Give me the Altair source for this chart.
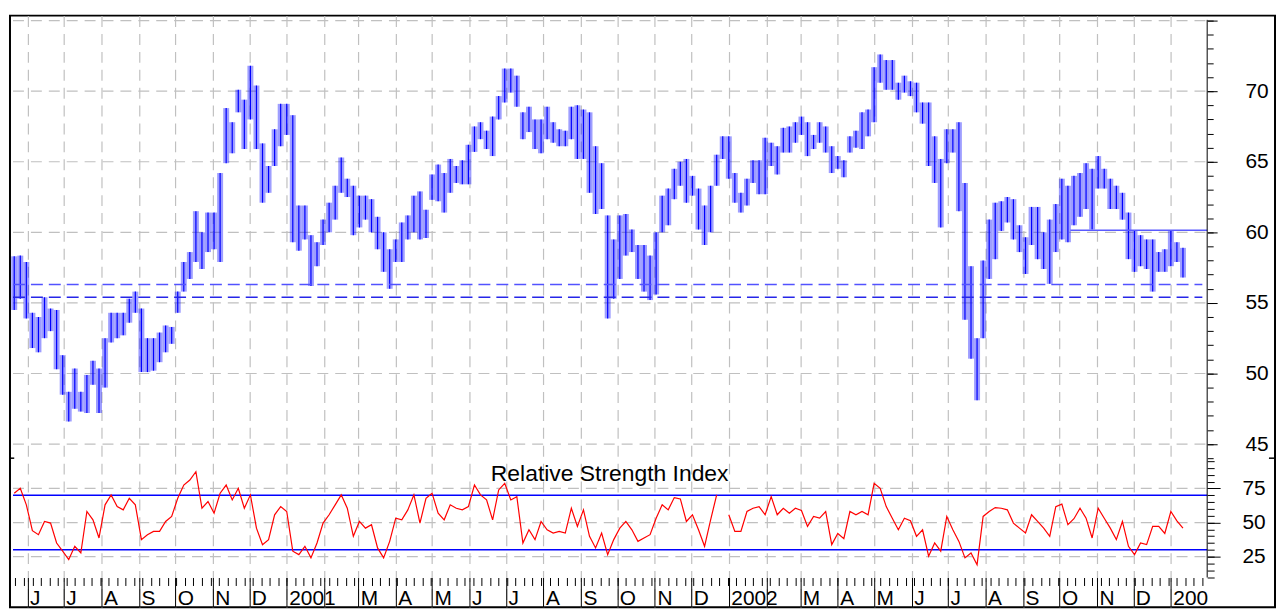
import json
import altair as alt
import pandas as pd

# ---------------- data ----------------
FIRST_BAR = "2000-05-21"
BAR_STEP = "5D"

HIGH = [
    58.3, 58.35, 57.9, 54.3, 54.0, 55.4, 54.6, 54.5, 51.3, 48.7,
    50.35, 48.7, 49.9, 50.9, 50.35, 52.5, 54.3, 54.3, 54.3, 55.3,
    55.8, 54.6, 52.5, 52.5, 52.9, 53.4, 53.3, 55.8, 57.9, 58.6,
    61.5, 60.0, 61.4, 61.4, 64.2, 68.8, 67.8, 70.1, 69.4, 71.8,
    70.4, 66.3, 64.7, 67.3, 69.1, 69.1, 68.3, 61.9, 61.9, 59.8,
    59.3, 60.9, 62.1, 63.3, 65.3, 63.8, 63.3, 62.6, 62.6, 62.35,
    61.1, 60.0, 58.8, 59.5, 60.7, 61.2, 62.6, 62.9, 61.6, 64.1,
    64.8, 64.2, 65.2, 64.7, 65.1, 66.2, 67.5, 67.8, 67.2, 68.2,
    69.65, 71.6, 71.6, 71.1, 68.5, 68.9, 68.0, 68.0, 68.9, 67.8,
    67.3, 67.2, 68.9, 69.0, 68.7, 68.5, 66.1, 64.9, 61.2, 59.5,
    61.2, 61.3, 60.2, 59.1, 59.1, 58.35, 60.0, 62.6, 63.1, 64.5,
    65.0, 65.2, 64.0, 63.1, 61.9, 63.3, 65.5, 66.8, 66.8, 64.2,
    62.8, 63.8, 65.1, 65.1, 66.7, 66.35, 66.1, 67.4, 67.5, 67.8,
    68.2, 67.8, 66.9, 67.8, 67.5, 66.1, 65.4, 65.1, 66.8, 67.2,
    68.5, 68.7, 71.7, 72.6, 72.2, 72.2, 70.6, 71.1, 70.7, 70.6,
    69.2, 69.2, 66.8, 65.2, 67.3, 67.3, 67.8, 63.5, 57.6, 52.5,
    58.0, 60.9, 62.1, 62.2, 62.5, 62.35, 60.5, 59.65, 61.8, 61.8,
    60.0, 60.9, 62.0, 63.8, 63.3, 64.0, 64.2, 64.9, 64.5, 65.4,
    64.5, 63.8, 63.3, 62.8, 61.4, 60.1, 59.8, 59.5, 59.5, 58.6,
    58.8, 60.1, 59.3, 58.9,
]

LOW = [
    54.5, 55.3, 53.9, 51.8, 51.5, 52.5, 53.0, 50.3, 48.5, 46.6,
    47.5, 47.3, 47.2, 49.2, 47.2, 49.0, 52.2, 52.5, 52.7, 53.6,
    54.3, 50.1, 50.1, 50.2, 50.8, 51.5, 52.1, 54.3, 55.8, 56.7,
    57.9, 57.4, 58.6, 58.8, 57.9, 64.9, 65.6, 68.5, 65.9, 68.0,
    65.9, 62.1, 62.8, 64.7, 66.1, 66.9, 59.3, 58.7, 59.5, 56.2,
    57.6, 59.1, 60.0, 60.9, 62.8, 62.5, 59.8, 60.35, 60.9, 60.0,
    58.8, 57.2, 56.0, 57.9, 57.9, 59.5, 60.0, 59.5, 59.6, 62.3,
    62.2, 61.4, 62.8, 63.5, 63.4, 63.4, 65.7, 66.6, 65.9, 65.4,
    68.0, 69.2, 69.9, 68.9, 66.6, 67.1, 65.9, 65.6, 66.6, 66.35,
    66.1, 66.1, 66.6, 65.2, 65.2, 62.8, 61.3, 61.65, 53.9, 55.3,
    56.7, 58.35, 58.6, 56.7, 55.8, 55.2, 55.6, 60.0, 60.5, 62.35,
    63.3, 62.1, 62.6, 60.2, 59.1, 60.0, 63.3, 65.2, 63.8, 62.1,
    61.4, 61.9, 63.5, 62.7, 62.7, 64.7, 64.1, 65.65, 65.65, 66.35,
    66.9, 65.4, 65.9, 66.35, 65.65, 64.2, 64.5, 63.9, 65.65, 66.0,
    65.9, 66.8, 67.8, 70.6, 70.1, 70.1, 69.4, 69.9, 69.65, 68.5,
    67.7, 64.7, 63.5, 60.35, 64.9, 65.65, 61.5, 53.8, 51.05, 48.1,
    52.5, 56.7, 58.1, 60.1, 60.7, 59.5, 58.6, 57.05, 59.1, 58.1,
    57.4, 56.35, 58.6, 59.5, 59.3, 60.5, 61.1, 61.65, 60.2, 63.1,
    63.1, 61.65, 61.65, 60.9, 58.1, 57.2, 57.6, 57.4, 55.8, 57.2,
    57.2, 57.6, 57.9, 56.8,
]

RSI = [
    71.5, 75.1, 63.0, 44.0, 41.1, 50.8, 49.6, 35.0, 29.0, 22.9,
    32.6, 27.7, 58.1, 52.0, 38.7, 63.0, 70.3, 61.7, 59.3, 67.8,
    63.0, 37.5, 41.1, 43.5, 43.5, 50.8, 54.5, 67.8, 77.5, 81.2,
    87.3, 60.5, 65.4, 56.9, 71.5, 77.5, 66.6, 75.1, 60.5, 70.3,
    45.9, 33.8, 37.5, 55.7, 61.7, 58.1, 29.0, 26.5, 32.6, 24.1,
    35.0, 49.6, 55.7, 63.0, 70.3, 60.5, 39.9, 50.8, 45.9, 48.4,
    31.4, 24.1, 36.2, 53.2, 52.0, 59.3, 70.3, 49.6, 67.8, 71.5,
    56.9, 52.0, 63.0, 60.5, 59.3, 61.7, 77.5, 70.3, 66.6, 52.0,
    73.9, 78.8, 66.6, 69.0, 35.0, 44.7, 37.5, 50.8, 44.7, 42.3,
    43.5, 42.3, 60.5, 47.2, 59.3, 39.9, 31.4, 42.3, 26.5, 37.5,
    45.9, 50.8, 44.7, 36.2, 38.7, 41.1, 53.2, 63.0, 59.3, 68.3,
    67.3, 50.8, 55.7, 44.7, 32.6, 52.0, 70.3, None, 55.7, 43.5,
    43.5, 58.1, 60.5, 61.7, 55.7, 69.0, 55.7, 60.5, 56.9, 60.5,
    58.8, 47.2, 54.5, 53.2, 58.1, 33.8, 42.0, 38.2, 58.1, 55.7,
    58.1, 55.7, 78.8, 75.1, 61.7, 53.2, 44.7, 53.2, 51.3, 39.9,
    44.7, 25.3, 35.0, 29.0, 54.5, 44.7, 36.2, 24.1, 27.7, 19.0,
    54.5, 58.1, 61.0, 60.5, 59.3, 49.6, 45.9, 42.3, 55.7, 50.8,
    45.9, 39.9, 61.7, 63.5, 48.4, 52.8, 60.5, 53.2, 38.7, 60.5,
    53.2, 45.9, 37.5, 50.8, 32.6, 26.5, 35.0, 33.8, 47.2, 47.2,
    42.0, 58.1, 51.3, 45.9,
]

PRICE_GRID = [45, 50, 55, 60, 65, 70, 75]
SUPPORT_LEVELS = [56.3, 55.4]
SUPPORT_COLORS = ["#5252ff", "#2626e8"]
RESIST_LEVEL = 60.15
RESIST_START = "2002-10-10"
RSI_GRID = [25, 50, 75]
RSI_BANDS = [70, 30]
PRICE_MAJOR = [45, 50, 55, 60, 65, 70, 75]
PRICE_UNLABELLED = [75]
PRICE_MINOR = list(range(44, 76))
RSI_MAJOR = [25, 50, 75]
RSI_MINOR = list(range(10, 100, 5))
MONTH_LETTERS = ["J", "F", "M", "A", "M", "J", "J", "A", "S", "O", "N", "D"]
CLIPPED_YEAR = {"2003": "200"}
TITLE_RSI = "Relative Strength Index"

LINE_START = "2000-05-20"
LINE_END = "2003-01-31"
X_START = "2000-05-17 12:00"
X_END = "2003-03-28 00:00"
STUB_X0 = ["2000-05-17", "2003-03-23"]
STUB_X1 = ["2000-05-21", "2003-03-28"]

# ---------------- layout ----------------
W, H = 1272, 595
FONT = "Liberation Sans"
P_HI, P_LO = 75, 44
Y_P_HI, Y_P_LO = 5, 445
k_p = (Y_P_LO - Y_P_HI) / (P_HI - P_LO)
p_dom = [P_HI - (H - Y_P_HI) / k_p, P_HI + Y_P_HI / k_p]

R_HI, R_LO = 97.2, 9.7
Y_R_HI, Y_R_LO = 445, 565
k_r = (Y_R_LO - Y_R_HI) / (R_HI - R_LO)
r_dom = [R_LO - (H - Y_R_LO) / k_r, R_HI + Y_R_HI / k_r]


def ms(s):
    return int(pd.Timestamp(s).value // 10**6)


x0_ms, x1_ms = ms(X_START), ms(X_END)
axis_px = (ms(LINE_END) - x0_ms) / (x1_ms - x0_ms) * W
right_off = -(W - axis_px)

weeks = [ms(t) for t in pd.date_range("2000-05-22", LINE_END, freq="W-MON")]
months = [ms(t) for t in pd.date_range("2000-06-01", "2003-01-01", freq="MS")]

dates = pd.date_range(FIRST_BAR, periods=len(HIGH), freq=BAR_STEP)
df = pd.DataFrame({
    "date": dates.strftime("%Y-%m-%d"),
    "high": HIGH,
    "low": LOW,
    "rsi": RSI,
})

xs = alt.Scale(type="utc", domain=[x0_ms, x1_ms], nice=False)
ps = alt.Scale(domain=p_dom, nice=False, zero=False)
rs = alt.Scale(domain=r_dom, nice=False, zero=False)

year_expr = "'' + utcyear(datum.value)"
for y, lab in CLIPPED_YEAR.items():
    year_expr = f"(utcyear(datum.value) == {y} ? '{lab}' : {year_expr})"
LABEL_EXPR = (
    f"utcmonth(datum.value) == 0 ? {year_expr} : "
    f"utcmonth(datum.value) == 1 ? '' : {json.dumps(MONTH_LETTERS)}[utcmonth(datum.value)]"
)
PRICE_LABEL_EXPR = " || ".join(f"datum.value == {v}" for v in PRICE_UNLABELLED) + " ? '' : datum.label"

common_lab = dict(labelFont=FONT, labelFontSize=21, labelColor="black",
                  labelOverlap=False, labelFlush=False, title=None)

x_major = alt.Axis(
    values=months, orient="bottom", offset=-(H - Y_R_LO), domain=False,
    grid=True, gridColor="#c0c0c0", gridDash=[11, 7], gridWidth=1.2,
    tickColor="black", tickWidth=1, tickSize=30,
    labelExpr=LABEL_EXPR, labelAlign="left", labelBaseline="alphabetic",
    labelOffset=2, labelPadding=-3, **common_lab,
)
x_minor = alt.Axis(
    values=weeks, orient="bottom", offset=-(H - Y_R_LO), domain=False, grid=False,
    tickColor="black", tickWidth=1, tickSize=8, labels=False, title=None,
)

price_major = alt.Axis(
    orient="right", offset=right_off, values=PRICE_MAJOR, domain=False, grid=False,
    tickColor="black", tickWidth=1, tickSize=10, labelExpr=PRICE_LABEL_EXPR,
    labelAlign="left", labelBaseline="middle", labelPadding=28, **common_lab,
)
price_minor = alt.Axis(
    orient="right", offset=right_off, values=PRICE_MINOR, domain=False, grid=False,
    tickColor="black", tickWidth=1, tickSize=6, labels=False, title=None,
)
rsi_major = alt.Axis(
    orient="right", offset=right_off, values=RSI_MAJOR, domain=False, grid=False,
    tickColor="black", tickWidth=1, tickSize=13,
    labelAlign="left", labelBaseline="middle", labelPadding=22, **common_lab,
)
rsi_minor = alt.Axis(
    orient="right", offset=right_off, values=RSI_MINOR, domain=False, grid=False,
    tickColor="black", tickWidth=1, tickSize=7, labels=False, title=None,
)

base = alt.Chart(df)

# ---------- price panel ----------
grid_price = alt.Chart(pd.DataFrame({"level": PRICE_GRID, "x0": LINE_START, "x1": LINE_END})).mark_rule(
    color="#c0c0c0", strokeDash=[11, 7], strokeWidth=1.2
).encode(
    x=alt.X("x0:T", scale=xs, axis=x_major), x2="x1",
    y=alt.Y("level:Q", scale=ps, axis=price_minor),
)

bars_light = base.mark_rule(color="#0000ff", strokeWidth=6, opacity=0.38).encode(
    x=alt.X("date:T", scale=xs, axis=x_minor),
    y=alt.Y("low:Q", scale=ps, axis=price_major), y2="high",
)
bars_dark = base.mark_rule(color="#0000ff", strokeWidth=1.2).encode(
    x=alt.X("date:T", scale=xs, axis=None),
    y=alt.Y("low:Q", scale=ps, axis=None), y2="high",
)

support = alt.Chart(pd.DataFrame({
    "level": SUPPORT_LEVELS, "c": SUPPORT_COLORS, "x0": LINE_START, "x1": "2003-01-27",
})).mark_rule(strokeDash=[12, 6], strokeWidth=1.5).encode(
    x=alt.X("x0:T", scale=xs, axis=None), x2="x1",
    y=alt.Y("level:Q", scale=ps, axis=None),
    color=alt.Color("c:N", scale=None, legend=None),
)

resist = alt.Chart(pd.DataFrame({"level": [RESIST_LEVEL], "x0": [RESIST_START], "x1": [LINE_END]})).mark_rule(
    color="#5a5aff", strokeWidth=1.5
).encode(
    x=alt.X("x0:T", scale=xs, axis=None), x2="x1",
    y=alt.Y("level:Q", scale=ps, axis=None),
)

price_domain = alt.Chart(pd.DataFrame({"x": [LINE_END], "lo": [P_LO], "hi": [P_HI + 0.05]})).mark_rule(
    color="black", strokeWidth=1
).encode(
    x=alt.X("x:T", scale=xs, axis=None),
    y=alt.Y("lo:Q", scale=ps, axis=None), y2="hi",
)

stubs = alt.Chart(pd.DataFrame({"x0": STUB_X0, "x1": STUB_X1, "level": P_LO})).mark_rule(
    color="black", strokeWidth=1.5
).encode(
    x=alt.X("x0:T", scale=xs, axis=None), x2="x1",
    y=alt.Y("level:Q", scale=ps, axis=None),
)

price_group = alt.layer(grid_price, bars_light, bars_dark, support, resist, price_domain, stubs).resolve_axis(
    x="independent", y="independent"
)

# ---------- RSI panel ----------
grid_rsi = alt.Chart(pd.DataFrame({"level": RSI_GRID, "x0": LINE_START, "x1": LINE_END})).mark_rule(
    color="#c0c0c0", strokeDash=[11, 7], strokeWidth=1.2
).encode(
    x=alt.X("x0:T", scale=xs, axis=None), x2="x1",
    y=alt.Y("level:Q", scale=rs, axis=rsi_minor),
)

bands = alt.Chart(pd.DataFrame({"level": RSI_BANDS, "x0": LINE_START, "x1": LINE_END})).mark_rule(
    color="#0000ff", strokeWidth=1.5
).encode(
    x=alt.X("x0:T", scale=xs, axis=None), x2="x1",
    y=alt.Y("level:Q", scale=rs, axis=None),
)

rsi_line = base.mark_line(color="#ff0000", strokeWidth=1.2).encode(
    x=alt.X("date:T", scale=xs, axis=None),
    y=alt.Y("rsi:Q", scale=rs, axis=rsi_major),
)

rsi_domain = alt.Chart(pd.DataFrame({"x": [LINE_END], "lo": [R_LO], "hi": [R_HI]})).mark_rule(
    color="black", strokeWidth=1
).encode(
    x=alt.X("x:T", scale=xs, axis=None),
    y=alt.Y("lo:Q", scale=rs, axis=None), y2="hi",
)

title = alt.Chart(pd.DataFrame({"t": [TITLE_RSI]})).mark_text(
    font=FONT, fontSize=23, color="black", align="center", baseline="alphabetic"
).encode(text="t:N", x=alt.value(603), y=alt.value(Y_R_HI + 23))

rsi_group = alt.layer(grid_rsi, bands, rsi_line, rsi_domain, title).resolve_axis(y="independent")

chart = alt.layer(price_group, rsi_group).resolve_scale(y="independent").resolve_axis(
    x="independent", y="independent"
).properties(
    width=W, height=H, padding=0, background="white"
).configure_view(stroke="black", strokeWidth=2)

chart.save("out.html", embed_options={"renderer": "svg", "actions": False})
